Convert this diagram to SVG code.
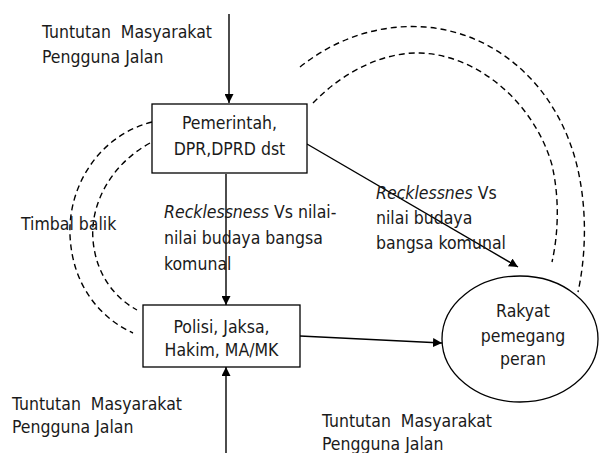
<svg xmlns="http://www.w3.org/2000/svg" width="603" height="453" viewBox="0 0 603 453">
<style>
text{font-family:"DejaVu Sans Condensed","DejaVu Sans",sans-serif;font-stretch:condensed;font-size:17.5px;fill:#1a1a1a;white-space:pre}
.c{text-anchor:middle}
.box{fill:#fff;stroke:#000;stroke-width:1.3}
.ln{fill:none;stroke:#000;stroke-width:1.4}
.dash{fill:none;stroke:#000;stroke-width:1.4;stroke-dasharray:6 4}
</style>
<defs>
<marker id="ah" viewBox="0 0 10 10" refX="10" refY="5" markerWidth="9" markerHeight="9" markerUnits="userSpaceOnUse" orient="auto">
<path d="M0,0 L10,5 L0,10 z" fill="#000"/>
</marker>
</defs>
<g id="connectors">
<path class="dash" d="M300,67 C340,35 385,24 425,27 C500,33 560,90 578,170 C588,215 585,260 578,292"/>
<path class="dash" d="M313,103 C345,70 385,52 420,53 C480,55 535,105 552,165 C560,200 558,235 552,262"/>
<path class="dash" d="M152,122 C100,135 68,185 70,235 C72,285 100,318 133,333"/>
<path class="dash" d="M150,143 C110,165 90,205 93,240 C96,275 115,298 137,310"/>
<line class="ln" x1="229" y1="14" x2="229" y2="103" marker-end="url(#ah)"/>
<line class="ln" x1="226" y1="174" x2="226" y2="305" marker-end="url(#ah)"/>
<line class="ln" x1="226" y1="453" x2="226" y2="367" marker-end="url(#ah)"/>
<line class="ln" x1="307" y1="144" x2="518" y2="267" marker-end="url(#ah)"/>
<line class="ln" x1="300" y1="336" x2="442" y2="343" marker-end="url(#ah)"/>
</g>
<g id="pemerintah">
<rect class="box" x="152" y="104" width="155" height="69"/>
<text class="c" x="229.5" y="129">Pemerintah,</text>
<text class="c" x="229.5" y="155">DPR,DPRD dst</text>
</g>
<g id="polisi">
<rect class="box" x="143" y="305" width="157" height="62"/>
<text class="c" x="221.5" y="333">Polisi, Jaksa,</text>
<text class="c" x="221.5" y="356">Hakim, MA/MK</text>
</g>
<g id="rakyat">
<ellipse class="box" cx="520" cy="339" rx="78" ry="63"/>
<text class="c" x="523" y="317">Rakyat</text>
<text class="c" x="523" y="342">pemegang</text>
<text class="c" x="523" y="365">peran</text>
</g>
<g id="labels">
<text x="42" y="38">Tuntutan  Masyarakat</text>
<text x="42" y="63">Pengguna Jalan</text>
<text x="21" y="230">Timbal balik</text>
<text x="164" y="218"><tspan font-style="italic">Recklessness</tspan> Vs nilai-</text>
<text x="164" y="244">nilai budaya bangsa</text>
<text x="164" y="270">komunal</text>
<text x="376" y="199"><tspan font-style="italic">Recklessnes</tspan> Vs</text>
<text x="376" y="224">nilai budaya</text>
<text x="376" y="249">bangsa komunal</text>
<text x="12" y="410">Tuntutan  Masyarakat</text>
<text x="12" y="433">Pengguna Jalan</text>
<text x="322" y="427">Tuntutan  Masyarakat</text>
<text x="322" y="450">Pengguna Jalan</text>
</g>
</svg>
